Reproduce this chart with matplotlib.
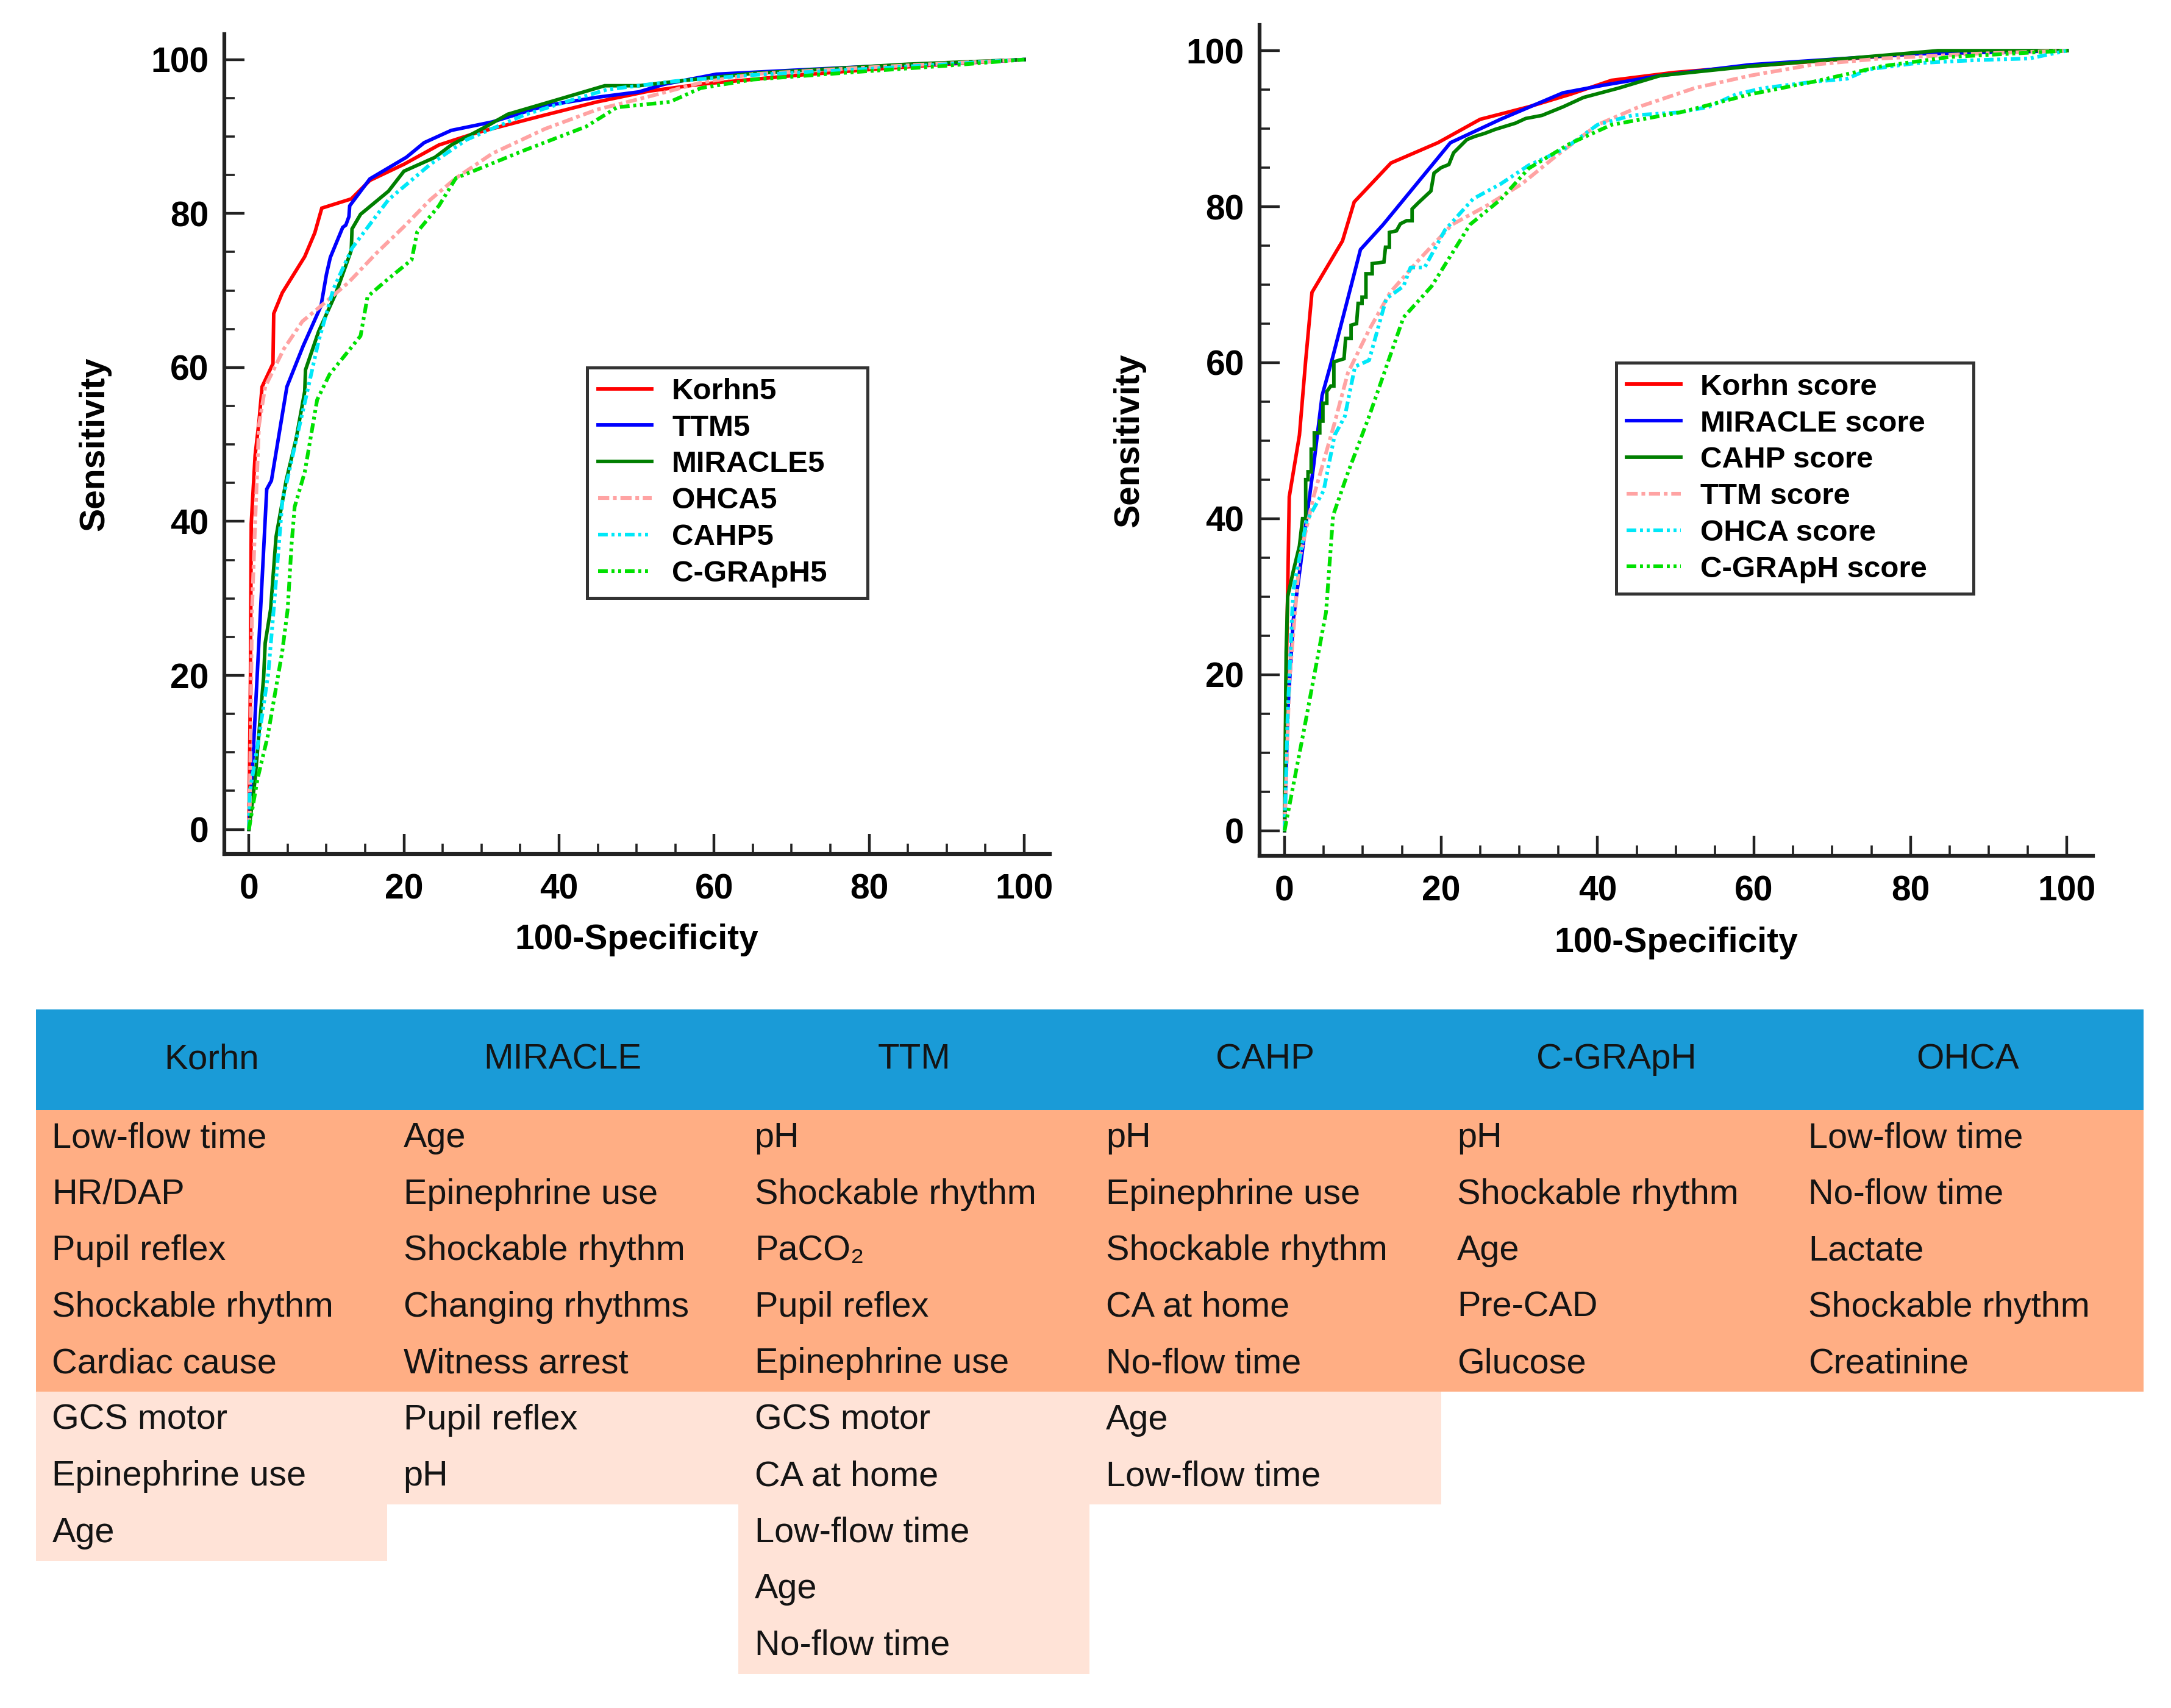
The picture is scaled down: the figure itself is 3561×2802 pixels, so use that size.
"""Curvas ROC de puntuaciones pronósticas y tabla de variables de cada modelo."""

import matplotlib

matplotlib.use("Agg")
import matplotlib.pyplot as plt
from matplotlib.patches import Rectangle
from matplotlib.ticker import MultipleLocator

plt.rcParams["font.family"] = ["Liberation Sans", "DejaVu Sans"]

# ---- panel izquierdo: modelos de 5 variables ----
korhn5_x = [0, 0.2, 0.3, 0.8, 1.3, 1.7, 3.1, 3.2, 4.3, 7.2, 8.5, 9.4, 13.2, 15.6, 20, 24.5, 29.4, 38.2, 44.9, 51.6, 58.3, 70, 80, 90, 100]
korhn5_y = [0, 20, 39.7, 48.6, 53, 57.5, 60.5, 67, 69.7, 74.4, 77.5, 80.7, 81.9, 84.3, 86.4, 88.9, 90.5, 92.8, 94.5, 95.9, 96.8, 97.9, 98.7, 99.4, 100]
ttm5_x = [0, 0.2, 2.3, 2.9, 4.9, 7.0, 9.3, 10.0, 10.5, 12.1, 12.5, 12.9, 13.0, 15.6, 20.3, 22.6, 26.1, 31.4, 38.2, 44.9, 50.3, 53.6, 60.3, 70, 80, 90, 100]
ttm5_y = [0, 3, 44.2, 45.3, 57.5, 62.8, 68, 72.1, 74.3, 78.2, 78.5, 79.6, 81.0, 84.5, 87.3, 89.2, 90.8, 91.9, 94, 95.1, 95.8, 96.8, 98.1, 98.6, 99.1, 99.5, 100]
miracle5_x = [0, 0.8, 1.9, 2.1, 2.8, 3.5, 4.8, 6.1, 7.2, 7.3, 9.0, 11.2, 13.2, 13.3, 14.4, 18.0, 20.0, 24.0, 26.1, 30.6, 33.4, 39.5, 45.9, 50.3, 56.3, 65, 75, 85, 100]
miracle5_y = [0, 6.5, 19.8, 24.2, 28.6, 38.0, 45.3, 50.8, 56.9, 59.7, 64.7, 69.6, 75.2, 78.0, 79.9, 82.9, 85.5, 87.3, 88.9, 91.3, 92.9, 94.7, 96.6, 96.6, 97.3, 98.2, 98.8, 99.4, 100]
ohca5_x = [0, 0.1, 0.4, 0.8, 1.3, 2.1, 4.5, 6.9, 9.3, 12.8, 16.5, 20, 23.4, 26.7, 31.4, 38.2, 44.9, 51.6, 58.3, 65, 78.5, 90, 100]
ohca5_y = [0, 2, 28.6, 39.7, 52.5, 57.5, 62.4, 66, 68, 71, 74.9, 78.3, 81.8, 84.6, 87.8, 91, 93.5, 95.2, 97, 98.1, 98.9, 99.5, 100]
cahp5_x = [0, 0.1, 1.3, 2.5, 3.2, 4.3, 5.9, 7.4, 9.0, 10.9, 13.3, 16.5, 18, 23.4, 28.1, 35.5, 41.5, 46.2, 55, 65, 80, 90, 100]
cahp5_y = [0, 4.8, 12, 20.3, 28.6, 42.5, 49.7, 56.3, 63.5, 70.2, 75.5, 79.8, 81.8, 86.4, 89.6, 92.8, 94.7, 96.1, 97.2, 98, 98.8, 99.4, 100]
cgraph5_x = [0, 1.1, 2.4, 4.3, 5.0, 5.5, 5.9, 7.2, 8.8, 10.4, 14.4, 15.3, 17.6, 21.0, 21.7, 24.5, 26.7, 29.4, 35.5, 43.5, 47.5, 54.3, 58.3, 65, 78.5, 90, 100]
cgraph5_y = [0, 6.5, 12, 23.1, 28.6, 37, 41.9, 46.4, 55.8, 59.1, 64.1, 69.2, 71.2, 74, 77.6, 81, 84.6, 85.7, 88.2, 91.3, 93.8, 94.5, 96.3, 97.4, 98.4, 99.2, 100]

# ---- panel derecho: puntuaciones originales ----
korhn_x = [0, 0.2, 0.6, 1.9, 2.7, 3.5, 7.4, 8.9, 13.6, 19.6, 25, 31.2, 36.5, 41.8, 49.7, 59.5, 70, 80.7, 100]
korhn_y = [0, 19, 42.8, 50.7, 60.3, 69, 75.6, 80.6, 85.6, 88.2, 91.2, 92.8, 94.4, 96.2, 97.2, 98, 98.8, 99.6, 100]
miracle_x = [0, 0.4, 1.1, 3.7, 4.8, 6.1, 9.7, 12.6, 21.2, 27.6, 35.6, 40.9, 48, 59.5, 80.7, 100]
miracle_y = [0, 15, 26.9, 46.7, 55.8, 60.5, 74.5, 77.7, 88.2, 91.2, 94.6, 95.6, 96.8, 98.2, 99.6, 100]
cahp_x = [0, 0.2, 0.4, 1.1, 1.9, 2.3, 2.7, 2.7, 3.0, 3.0, 3.4, 3.4, 3.8, 3.8, 4.5, 4.5, 4.9, 4.9, 5.4, 5.4,
          5.9, 6.3, 6.3, 7.6, 7.8, 8.5, 8.5, 9.2, 9.4, 9.9, 9.9, 10.4, 10.4, 11.2, 11.2, 12.7, 12.9, 13.4,
          13.4, 14.3, 14.8, 15.6, 16.3, 16.3, 17.1, 18.7, 19.1, 20, 21, 21.6, 23.3, 24.3, 25.6, 26.9,
          29.5, 30.8, 32.9, 35.6, 38.2, 42.7, 48, 59.5, 71.9, 83.5, 100]
cahp_y = [0, 22.9, 30, 33.2, 36.5, 40, 40, 45, 45, 46, 46, 48.9, 48.9, 51, 51, 52.5, 52.5, 54.8, 54.8, 56.3,
          57, 57, 60.1, 60.5, 63.1, 63.1, 64.8, 65, 67.6, 67.6, 68.4, 68.4, 71.4, 71.4, 72.7, 72.9, 74.8,
          74.8, 76.7, 76.9, 77.8, 78.2, 78.2, 79.7, 80.5, 82, 84.3, 85, 85.4, 86.9, 88.6, 89, 89.4, 89.9,
          90.7, 91.3, 91.7, 92.8, 94, 95.2, 96.8, 98, 99, 100, 100]
ttm_x = [0, 0.6, 1.9, 3.7, 6.4, 8.1, 10.8, 13.5, 17, 21.4, 25.8, 30.3, 34.7, 40, 45.3, 52.4, 59.5, 67.5, 76.3, 88, 100]
ttm_y = [0, 19, 34.8, 42.8, 52.3, 58.7, 64.2, 69, 73, 77.7, 80.1, 82.9, 86.5, 90.5, 92.8, 95.2, 96.8, 98.2, 99, 99.6, 100]
ohca_x = [0, 0.4, 1.1, 2.8, 5.0, 6.4, 7.7, 9.0, 10.8, 12.1, 13.0, 15.2, 16.1, 17.9, 20.5, 24.1, 27.6, 31.2, 35.6, 40, 44.4, 50.6, 54.2, 57.7, 61.2, 67.5, 71.9, 74.6, 80.7, 88.7, 95.2, 100]
ohca_y = [0, 15, 30.8, 39.6, 43.6, 50.7, 53.1, 59.5, 60.3, 65, 68.2, 69.8, 72.2, 72.2, 77, 81, 82.9, 85.3, 87.3, 90.5, 91.7, 92.1, 92.8, 94.4, 95.2, 96, 96.4, 97.6, 98.4, 98.8, 99, 100]
cgraph_x = [0, 2.5, 5.3, 6.2, 8.1, 10.8, 15.2, 18.8, 23.7, 27.6, 31.2, 36.5, 41.8, 50.6, 59.5, 67.5, 76.3, 85.1, 100]
cgraph_y = [0, 13, 28, 40.4, 45.9, 53.1, 65.8, 69.8, 77.7, 80.9, 84.9, 88.1, 90.5, 92.1, 94.4, 96, 98, 99.2, 100]

etiquetas_izq = ["Korhn5", "TTM5", "MIRACLE5", "OHCA5", "CAHP5", "C-GRApH5"]
etiquetas_der = ["Korhn score", "MIRACLE score", "CAHP score", "TTM score", "OHCA score", "C-GRApH score"]

# ---- tabla de variables ----
modelos = ["Korhn", "MIRACLE", "TTM", "CAHP", "C-GRApH", "OHCA"]
variables_principales = [
    ["Low-flow time", "HR/DAP", "Pupil reflex", "Shockable rhythm", "Cardiac cause"],
    ["Age", "Epinephrine use", "Shockable rhythm", "Changing rhythms", "Witness arrest"],
    ["pH", "Shockable rhythm", "PaCO₂", "Pupil reflex", "Epinephrine use"],
    ["pH", "Epinephrine use", "Shockable rhythm", "CA at home", "No-flow time"],
    ["pH", "Shockable rhythm", "Age", "Pre-CAD", "Glucose"],
    ["Low-flow time", "No-flow time", "Lactate", "Shockable rhythm", "Creatinine"],
]
variables_extra = [
    ["GCS motor", "Epinephrine use", "Age"],
    ["Pupil reflex", "pH"],
    ["GCS motor", "CA at home", "Low-flow time", "Age", "No-flow time"],
    ["Age", "Low-flow time"],
    [],
    [],
]

ESTILOS = [
    dict(color="#ff0000", linestyle="-", linewidth=4.2),
    dict(color="#0000ff", linestyle="-", linewidth=4.2),
    dict(color="#007f00", linestyle="-", linewidth=4.2),
    dict(color="#ffa3a3", linestyle=(0, (3, 1, 1, 1)), linewidth=4.4),
    dict(color="#00e8f8", linestyle=(0, (2.6, 1, 0.8, 1, 0.8, 1)), linewidth=4.4),
    dict(color="#00e000", linestyle=(0, (2.6, 1, 0.8, 1, 0.8, 1)), linewidth=4.4),
]


def preparar_ejes(ax, etiquetas_y_x):
    ax.set_xlim(-3.2, 103.3)
    ax.set_ylim(-3.2, 103.3)
    for lado in ("top", "right"):
        ax.spines[lado].set_visible(False)
    for lado in ("left", "bottom"):
        ax.spines[lado].set_linewidth(4.5)
        ax.spines[lado].set_color("#222222")
    ax.set_xticks(range(0, 101, 20))
    ax.set_yticks(range(0, 101, 20))
    ax.xaxis.set_minor_locator(MultipleLocator(5))
    ax.yaxis.set_minor_locator(MultipleLocator(5))
    ax.tick_params(which="major", direction="in", length=24, width=3.2, labelsize=41, color="#222222")
    ax.tick_params(which="minor", direction="in", length=12, width=2.6, color="#222222")
    ax.tick_params(axis="x", which="major", pad=23)
    ax.tick_params(axis="y", which="major", pad=18)
    for etiqueta in ax.get_xticklabels() + ax.get_yticklabels():
        etiqueta.set_fontweight("bold")
    ax.set_xlabel("100-Specificity", fontsize=41, fontweight="bold", va="center")
    ax.set_ylabel("Sensitivity", fontsize=41, fontweight="bold", va="center", ha="center")
    ax.xaxis.set_label_coords(0.5, -0.105)
    ax.yaxis.set_label_coords(etiquetas_y_x, 0.5)


def graficar_roc(ax, curvas, etiquetas, caja):
    for (xs, ys), etiqueta, estilo in zip(curvas, etiquetas, ESTILOS):
        ax.plot(xs, ys, label=etiqueta, solid_joinstyle="miter", **estilo)
    leyenda = ax.legend(
        loc="upper left",
        bbox_to_anchor=caja,
        mode="expand",
        prop={"weight": "bold", "size": 35.5},
        frameon=True,
        fancybox=False,
        edgecolor="#333333",
        framealpha=1,
        handlelength=1.8,
        handletextpad=0.66,
        borderpad=0.35,
        labelspacing=0.30,
        borderaxespad=0,
    )
    leyenda.get_frame().set_linewidth(3.6)


def dibujar_tabla(ax):
    alto_cabecera = 1.784
    filas_max = max(len(p) + len(e) for p, e in zip(variables_principales, variables_extra))
    ax.set_xlim(0, len(modelos))
    ax.set_ylim(alto_cabecera + filas_max, 0)
    ax.axis("off")
    ax.add_patch(Rectangle((0, 0), len(modelos), alto_cabecera, facecolor="#1a9bd7", edgecolor="none"))
    for col, nombre in enumerate(modelos):
        ax.text(col + 0.5, alto_cabecera / 2, nombre, ha="center", va="center", fontsize=42, color="#141414")
        principales = variables_principales[col]
        extra = variables_extra[col]
        ax.add_patch(Rectangle((col, alto_cabecera), 1, len(principales),
                               facecolor="#ffae84", edgecolor="none"))
        if extra:
            ax.add_patch(Rectangle((col, alto_cabecera + len(principales)), 1, len(extra),
                                   facecolor="#ffe3d7", edgecolor="none"))
        for fila, texto in enumerate(principales + extra):
            ax.text(col + 0.046, alto_cabecera + fila + 0.5, texto, ha="left", va="center",
                    fontsize=41.5, color="#141414")


def main():
    fig = plt.figure(figsize=(35.62, 28.02), dpi=100)
    ax_izq = fig.add_axes([0.1032, 0.500, 0.3802, 0.480])
    ax_der = fig.add_axes([0.5800, 0.4991, 0.3837, 0.4863])
    ax_tabla = fig.add_axes([0.01656, 0.0200, 0.9705, 0.3890])

    curvas_izq = [(korhn5_x, korhn5_y), (ttm5_x, ttm5_y), (miracle5_x, miracle5_y),
                  (ohca5_x, ohca5_y), (cahp5_x, cahp5_y), (cgraph5_x, cgraph5_y)]
    curvas_der = [(korhn_x, korhn_y), (miracle_x, miracle_y), (cahp_x, cahp_y),
                  (ttm_x, ttm_y), (ohca_x, ohca_y), (cgraph_x, cgraph_y)]

    graficar_roc(ax_izq, curvas_izq, etiquetas_izq, (0.440, 0.5936, 0.339, 0))
    graficar_roc(ax_der, curvas_der, etiquetas_der, (0.428, 0.593, 0.4286, 0))
    preparar_ejes(ax_izq, -0.157)
    preparar_ejes(ax_der, -0.156)
    dibujar_tabla(ax_tabla)

    fig.savefig("out.png", dpi=100, facecolor="white")
    plt.close(fig)


if __name__ == "__main__":
    main()
